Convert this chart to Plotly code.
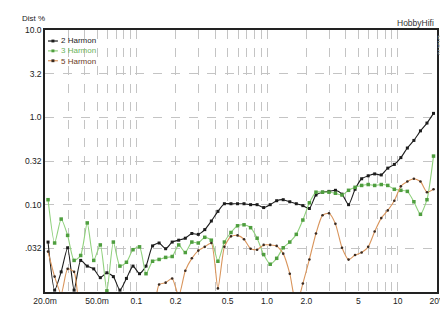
import plotly.graph_objects as go

# Input level (V)
volts = [0.0211, 0.0237, 0.0266, 0.0298, 0.0334, 0.0375, 0.0421, 0.0472, 0.0530, 0.0595,
         0.0667, 0.0749, 0.0840, 0.0943, 0.1058, 0.1186, 0.1331, 0.1494, 0.1676, 0.1881,
         0.211, 0.237, 0.266, 0.298, 0.334, 0.375, 0.421, 0.472, 0.530, 0.595,
         0.667, 0.749, 0.840, 0.943, 1.058, 1.186, 1.331, 1.494, 1.676, 1.881,
         2.11, 2.37, 2.66, 2.98, 3.34, 3.75, 4.21, 4.72, 5.30, 5.95,
         6.67, 7.49, 8.40, 9.43, 10.58, 11.86, 13.31, 14.94, 16.76, 18.81]

# Distortion (%)
h2 = [0.0373, 0.0105, 0.017, 0.0321, 0.0105, 0.023, 0.0198, 0.0184, 0.0146, 0.0166,
      0.015, 0.0105, 0.0143, 0.0198, 0.0162, 0.0198, 0.0337, 0.0364, 0.0313, 0.0373,
      0.0392, 0.0413, 0.0468, 0.0457, 0.0518, 0.065, 0.0838, 0.1025, 0.1025, 0.1025,
      0.1025, 0.100, 0.100, 0.0927, 0.100, 0.111, 0.114, 0.108, 0.1025, 0.0975,
      0.0904, 0.129, 0.139, 0.142, 0.146, 0.132, 0.100, 0.150, 0.198, 0.214,
      0.225, 0.219, 0.262, 0.289, 0.346, 0.445, 0.544, 0.70, 0.86, 1.11]

h3 = [0.114, 0.0364, 0.0684, 0.0445, 0.023, 0.0262, 0.0618, 0.023, 0.0346, 0.0103,
      0.0373, 0.0198, 0.0219, 0.0305, 0.0329, 0.0162, 0.0225, 0.0236, 0.0249, 0.0255,
      0.0346, 0.0283, 0.0373, 0.0364, 0.0423, 0.0392, 0.0225, 0.0373, 0.048, 0.0573,
      0.0588, 0.0545, 0.0413, 0.0268, 0.0208, 0.0243, 0.0321, 0.0373, 0.0457, 0.0667,
      0.105, 0.139, 0.139, 0.139, 0.135, 0.129, 0.146, 0.158, 0.166, 0.170,
      0.166, 0.170, 0.166, 0.150, 0.146, 0.142, 0.108, 0.0776, 0.114, 0.36]

h5 = [0.029, 0.015, 0.0095, 0.0184, 0.017, 0.006, 0.006, 0.006, 0.006, 0.006,
      0.006, 0.006, 0.006, 0.006, 0.006, 0.006, 0.006, 0.0122, 0.0128, 0.0143,
      0.009, 0.0175, 0.0243, 0.0298, 0.0329, 0.0364, 0.011, 0.0329, 0.0434, 0.0445,
      0.0402, 0.0313, 0.0305, 0.0346, 0.0346, 0.0337, 0.0275, 0.0162, 0.007, 0.0125,
      0.0236, 0.0468, 0.0757, 0.0796, 0.0603, 0.0321, 0.0235, 0.0265, 0.0283, 0.0329,
      0.0493, 0.0702, 0.086, 0.111, 0.162, 0.184, 0.198, 0.184, 0.139, 0.15]

series_names = ["2 Harmon", "3 Harmon", "5 Harmon"]

x_grid = [0.02, 0.03, 0.04, 0.05, 0.06, 0.07, 0.08, 0.09,
          0.1, 0.2, 0.3, 0.4, 0.5, 0.6, 0.7, 0.8, 0.9,
          1, 2, 3, 4, 5, 6, 7, 8, 9, 10, 20]
x_labels = {0.02: "20.0m", 0.05: "50.0m", 0.1: "0.1", 0.2: "0.2", 0.5: "0.5",
            1: "1.0", 2: "2.0", 5: "5", 10: "10", 20: "20V"}
y_ticks = [0.0316, 0.1, 0.316, 1, 3.16, 10]
y_labels = [".032", "0.10", "0.32", "1.0", "3.2", "10.0"]

FONT = "Liberation Sans, Arial, sans-serif"

line_cols = ["#1c1c1c", "#8fd07c", "#d9955c"]
mark_cols = ["#1c1c1c", "#4f9e3f", "#3a2a20"]
text_cols = ["#1c1c1c", "#6cb35c", "#6b3a1e"]
symbols = ["square", "square", "circle"]
msizes = [3, 3.5, 2.6]

fig = go.Figure()
for name, ys, lc, mc, sym, ms in zip(series_names, [h2, h3, h5], line_cols,
                                     mark_cols, symbols, msizes):
    fig.add_trace(go.Scatter(
        x=volts, y=ys, name=name, mode="lines+markers",
        line=dict(color=lc, width=1.1, shape="spline", smoothing=0.6),
        marker=dict(symbol=sym, size=ms, color=mc)))

# compact legend: one multi-line text block + small glyphs (top-left inside plot)
PW, PH = 395.0, 276.0
LEG_FONT = 8
line_h = LEG_FONT * 1.3
mid = 22.0  # px below plot top for middle row
legend_text = "<br>".join(
    f"<span style='color:{c}'>{n}</span>" for n, c in zip(series_names, text_cols))
annotations = [dict(text=legend_text, xref="paper", yref="paper", x=15 / PW,
                    y=1 - mid / PH, xanchor="left", yanchor="middle", align="left",
                    showarrow=False, borderpad=0,
                    font=dict(size=LEG_FONT, color="#1c1c1c"))]
shapes = []
for k, (lc, mc) in enumerate(zip(line_cols, mark_cols)):
    yy = 1 - (mid + (k - 1) * line_h) / PH
    shapes.append(dict(type="line", xref="paper", yref="paper",
                       x0=3 / PW, x1=13 / PW, y0=yy, y1=yy,
                       line=dict(color=lc, width=1.2)))
    shapes.append(dict(type="rect", xref="paper", yref="paper",
                       x0=6.5 / PW, x1=9.5 / PW, y0=yy - 1.5 / PH, y1=yy + 1.5 / PH,
                       fillcolor=mc, line=dict(width=0)))

annotations += [
    dict(text="Dist %", xref="paper", yref="paper", x=-24 / PW, y=1 + 6 / PH,
         xanchor="left", yanchor="bottom", showarrow=False, borderpad=0,
         font=dict(size=8, color="#222")),
    dict(text="HobbyHifi", xref="paper", yref="paper", x=0.998, y=1.0,
         xanchor="right", yanchor="bottom", showarrow=False,
         font=dict(size=8.5, color="#333")),
    dict(text="Dist%", xref="paper", yref="paper", x=1 + 4 / PW, y=1 - 16 / PH,
         xanchor="center", yanchor="middle", showarrow=False, textangle=90,
         font=dict(size=7.5, color="#b0b0b0")),
]

fig.update_layout(
    width=448, height=309,
    margin=dict(l=37, r=16, t=22, b=11),
    paper_bgcolor="white", plot_bgcolor="white",
    font=dict(family=FONT, size=8.5, color="#222"),
    showlegend=False,
    xaxis=dict(type="log", range=[-1.69897, 1.30103],
               tickmode="array", tickvals=x_grid,
               ticktext=[x_labels.get(v, "") for v in x_grid],
               showgrid=True, gridcolor="#c4c4c4", griddash="dash", gridwidth=1,
               showline=True, linecolor="#222", linewidth=1.5, mirror=True,
               ticks="", tickfont=dict(size=8.5), zeroline=False,
               ticklabeloverflow="allow"),
    yaxis=dict(type="log", range=[-2, 1],
               tickmode="array", tickvals=y_ticks, ticktext=y_labels,
               showgrid=True, gridcolor="#c4c4c4", griddash="dash", gridwidth=1,
               showline=True, linecolor="#222", linewidth=1.5, mirror=True,
               ticks="", tickfont=dict(size=8.5), zeroline=False),
    annotations=annotations,
    shapes=shapes,
)

fig.write_html("out.html")
